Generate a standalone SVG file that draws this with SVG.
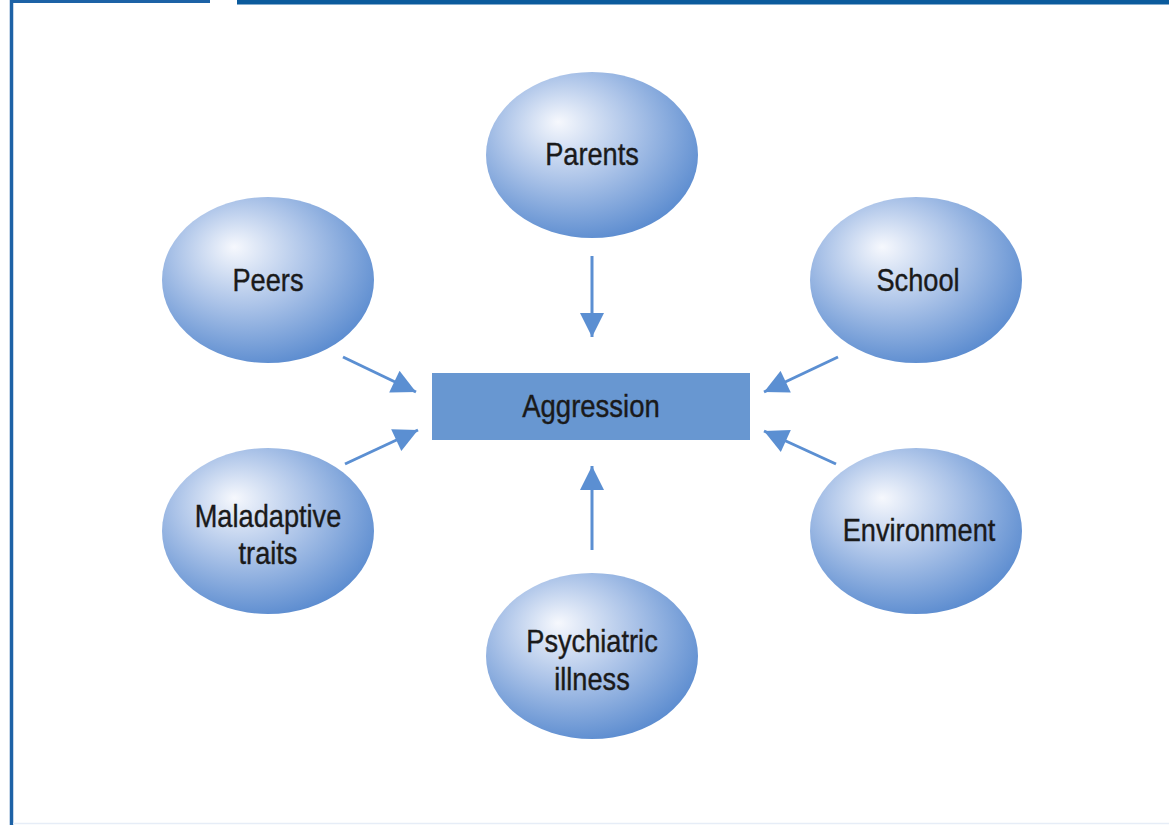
<svg xmlns="http://www.w3.org/2000/svg" width="1169" height="825" viewBox="0 0 1169 825">
<style>
.node{fill:url(#ballGrad);}
.lbl{font-family:"Liberation Sans",Arial,sans-serif;font-size:32px;fill:#1a1a1a;stroke:#1a1a1a;stroke-width:0.4;text-anchor:middle;}
.conn{stroke:#5b8fd2;stroke-width:3;fill:none;marker-end:url(#arrow);}
.frame{stroke:#1d62a6;fill:none;}
</style>
<defs>
<radialGradient id="ballGrad" cx="0.42" cy="0.38" r="0.64" fx="0.34" fy="0.3" gradientUnits="objectBoundingBox">
<stop offset="0" stop-color="#f6f8fd"/>
<stop offset="0.5" stop-color="#abc3e8"/>
<stop offset="1" stop-color="#5d8dd0"/>
</radialGradient>
<marker id="arrow" viewBox="0 0 10 10" refX="10" refY="5" markerWidth="8.5" markerHeight="8" markerUnits="strokeWidth" orient="auto">
<path d="M0,0 L10,5 L0,10 Z" fill="#5b8fd2"/>
</marker>
</defs>
<rect width="1169" height="825" fill="#ffffff"/>
<g id="frame">
<line class="frame" x1="11.5" y1="0" x2="11.5" y2="825" stroke-width="3.5"/>
<polyline class="frame" points="10,1.5 208.5,1.5 208.5,0" stroke-width="3"/>
<rect x="237" y="0" width="932" height="4.5" fill="#0b5b9d"/>
<line x1="13" y1="823.5" x2="1169" y2="823.5" stroke="#e6edf7" stroke-width="1.5"/>
</g>
<g id="connectors">
<line class="conn" x1="592" y1="256" x2="592" y2="337"/>
<line class="conn" x1="592" y1="550" x2="592" y2="466"/>
<line class="conn" x1="343" y1="357" x2="416" y2="392"/>
<line class="conn" x1="345" y1="464" x2="418" y2="430"/>
<line class="conn" x1="838" y1="357" x2="764" y2="392"/>
<line class="conn" x1="836" y1="464" x2="764" y2="431"/>
</g>
<g id="aggression">
<rect x="432" y="373" width="318" height="67" fill="#6897d1"/>
<text class="lbl" transform="translate(591,417) scale(0.86,1)">Aggression</text>
</g>
<g id="parents">
<ellipse class="node" cx="592" cy="155" rx="106" ry="83"/>
<text class="lbl" transform="translate(592,165) scale(0.85,1)">Parents</text>
</g>
<g id="peers">
<ellipse class="node" cx="268" cy="280" rx="106" ry="83"/>
<text class="lbl" transform="translate(268,291) scale(0.85,1)">Peers</text>
</g>
<g id="school">
<ellipse class="node" cx="916" cy="280" rx="106" ry="83"/>
<text class="lbl" transform="translate(918,291) scale(0.85,1)">School</text>
</g>
<g id="maladaptive">
<ellipse class="node" cx="268" cy="531" rx="106" ry="83"/>
<text class="lbl" transform="translate(268,527) scale(0.85,1)">Maladaptive</text>
<text class="lbl" transform="translate(268,564) scale(0.85,1)">traits</text>
</g>
<g id="environment">
<ellipse class="node" cx="916" cy="531" rx="106" ry="83"/>
<text class="lbl" transform="translate(919,541) scale(0.85,1)">Environment</text>
</g>
<g id="psychiatric">
<ellipse class="node" cx="592" cy="656" rx="106" ry="83"/>
<text class="lbl" transform="translate(592,652) scale(0.85,1)">Psychiatric</text>
<text class="lbl" transform="translate(592,690) scale(0.85,1)">illness</text>
</g>
</svg>
